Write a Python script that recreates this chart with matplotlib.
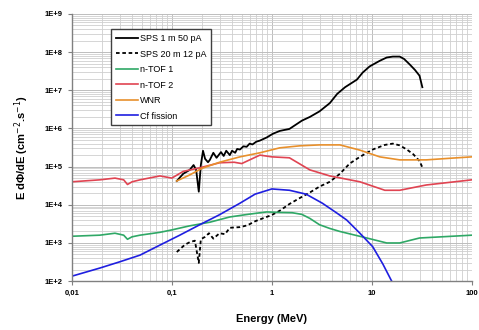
import numpy as np
import matplotlib
matplotlib.use('Agg')
import matplotlib.pyplot as plt
from matplotlib.ticker import LogLocator, FuncFormatter, NullFormatter

# SPS 1 m 50 pA (solid black)
sps1_e = [0.112, 0.13, 0.151, 0.165, 0.175, 0.186, 0.195, 0.205, 0.215, 0.23, 0.24, 0.26,
          0.28, 0.31, 0.33, 0.35, 0.38, 0.40, 0.43, 0.45, 0.48, 0.52, 0.56, 0.60,
          0.64, 0.70, 0.76, 0.89, 1.02, 1.2, 1.5, 2.0, 2.4, 3.0, 3.8, 4.5, 5.4,
          7.1, 8.1, 9.5, 12.0, 14.1, 16.2, 19.0, 21.0, 24.0, 27.0, 30.0, 32.0]
sps1_f = [4.2e4, 6.5e4, 8.2e4, 1.1e5, 8.2e4, 2.2e4, 1.1e5, 2.6e5, 1.6e5, 1.3e5, 1.5e5,
          2.3e5, 1.7e5, 2.4e5, 1.9e5, 2.6e5, 2.0e5, 2.6e5, 2.3e5, 2.9e5, 2.8e5, 3.4e5,
          3.3e5, 4.0e5, 3.8e5, 4.5e5, 4.8e5, 5.8e5, 7.2e5, 8.6e5, 9.7e5, 1.6e6, 2.0e6,
          2.8e6, 4.6e6, 8.0e6, 1.2e7, 1.9e7, 2.9e7, 4.2e7, 5.9e7, 7.2e7, 7.6e7, 7.6e7,
          6.6e7, 4.7e7, 3.4e7, 2.4e7, 1.2e7]

# SPS 20 m 12 pA (dashed black)
sps20_e = [0.112, 0.135, 0.151, 0.17, 0.186, 0.195, 0.215, 0.235, 0.26, 0.30, 0.34, 0.38,
           0.48, 0.57, 0.68, 0.79, 1.0, 1.2, 1.5, 1.9, 2.4, 3.0, 3.8, 4.8, 6.0, 7.6,
           10.2, 13.5, 16.2, 19.0, 22.4, 26.0, 30.0, 32.0]
sps20_f = [5.8e2, 9.0e2, 1.05e3, 1.15e3, 3.0e2, 1.25e3, 1.45e3, 1.8e3, 1.3e3, 1.8e3,
           1.7e3, 2.5e3, 2.6e3, 2.9e3, 3.7e3, 4.3e3, 5.4e3, 7.0e3, 1.05e4, 1.5e4, 2.1e4,
           3.0e4, 4.0e4, 6.5e4, 1.2e5, 1.8e5, 2.8e5, 3.7e5, 4.0e5, 3.6e5, 2.8e5,
           2.1e5, 1.4e5, 9.6e4]

# n-TOF 1 (green)
ntof1_e = [0.01, 0.019, 0.027, 0.033, 0.036, 0.040, 0.048, 0.076, 0.10, 0.15, 0.24, 0.38,
           0.60, 0.89, 1.2, 1.6, 2.0, 2.4, 3.0, 3.8, 4.8, 8.9, 14.1, 19.0, 30.0, 50.0,
           100.0]
ntof1_f = [1.5e3, 1.6e3, 1.8e3, 1.6e3, 1.25e3, 1.45e3, 1.6e3, 1.9e3, 2.2e3, 2.8e3, 3.5e3,
           4.8e3, 5.7e3, 6.5e3, 6.3e3, 6.2e3, 5.6e3, 4.4e3, 3.0e3, 2.4e3, 2.0e3,
           1.35e3, 1.0e3, 1.0e3, 1.35e3, 1.45e3, 1.6e3]

# n-TOF 2 (red)
ntof2_e = [0.01, 0.019, 0.027, 0.033, 0.036, 0.040, 0.048, 0.076, 0.10, 0.13, 0.19, 0.30,
           0.42, 0.50, 0.60, 0.76, 1.0, 1.5, 2.4, 3.8, 7.6, 13.5, 19.0, 35.0, 100.0]
ntof2_f = [4.0e4, 4.5e4, 5.0e4, 4.5e4, 3.4e4, 4.0e4, 4.5e4, 5.7e4, 5.0e4, 7.5e4, 9.3e4,
           1.26e5, 1.3e5, 1.2e5, 1.5e5, 2.0e5, 1.8e5, 1.7e5, 8.2e4, 5.7e4, 4.0e4,
           2.4e4, 2.4e4, 3.3e4, 4.5e4]

# WNR (orange)
wnr_e = [0.112, 0.15, 0.20, 0.30, 0.48, 0.76, 1.2, 1.9, 3.0, 4.8, 7.6, 12.0, 19.0,
         35.0, 60.0, 100.0]
wnr_f = [4.2e4, 6.0e4, 9.0e4, 1.3e5, 1.8e5, 2.3e5, 3.1e5, 3.5e5, 3.7e5, 3.7e5, 2.7e5,
         1.8e5, 1.5e5, 1.5e5, 1.65e5, 1.8e5]

# Fission-like spectrum (blue)
blue_e = [0.01, 0.019, 0.03, 0.048, 0.076, 0.12, 0.19, 0.30, 0.48, 0.68, 1.0, 1.5, 2.2,
          3.2, 4.5, 5.6, 7.6, 10.2, 12.9, 15.8, 18.0]
blue_f = [1.35e2, 2.2e2, 3.2e2, 4.8e2, 8.8e2, 1.6e3, 3.0e3, 5.5e3, 1.1e4, 1.9e4, 2.6e4,
          2.4e4, 1.9e4, 1.1e4, 6.0e3, 4.0e3, 1.8e3, 8.0e2, 2.8e2, 1.0e2, 5.0e1]

series = [
    (sps1_e, sps1_f, "SPS 1 m 50 pA", "black", "-"),
    (sps20_e, sps20_f, "SPS 20 m 12 pA", "black", (0, (2, 1.5))),
    (ntof1_e, ntof1_f, "n-TOF 1", "#2fa866", "-"),
    (ntof2_e, ntof2_f, "n-TOF 2", "#e04452", "-"),
    (wnr_e, wnr_f, "WNR", "#e8902c", "-"),
    (blue_e, blue_f, "Cf fission", "#1f1fe0", "-"),
]

plt.rcParams['font.family'] = ['Liberation Sans', 'DejaVu Sans']

fig = plt.figure(figsize=(4.79, 3.30), dpi=100)
ax = fig.add_axes([0.150, 0.148, 0.835, 0.810])

for e, f, lab, col, ls in series:
    lw = 1.3 if col == "black" else 1.2
    ax.plot(e, f, color=col, linestyle=ls, lw=lw, label=lab)

ax.set_xscale("log")
ax.set_yscale("log")
ax.set_xlim(0.01, 100)
ax.set_ylim(1e2, 1e9)

ax.xaxis.set_major_locator(LogLocator(base=10, numticks=10))
ax.yaxis.set_major_locator(LogLocator(base=10, numticks=10))
ax.xaxis.set_minor_locator(LogLocator(base=10, subs=np.arange(2, 10), numticks=20))
ax.yaxis.set_minor_locator(LogLocator(base=10, subs=np.arange(2, 10), numticks=20))
ax.xaxis.set_minor_formatter(NullFormatter())
ax.yaxis.set_minor_formatter(NullFormatter())

xlab = {0.01: "0,01", 0.1: "0,1", 1: "1", 10: "10", 100: "100"}
ax.xaxis.set_major_formatter(FuncFormatter(
    lambda v, p: xlab.get(round(v, 2) if v < 1 else round(v), "")))
ax.yaxis.set_major_formatter(FuncFormatter(
    lambda v, p: "1E+%d" % round(np.log10(v))))

ax.grid(which="major", color="#bdbdbd", lw=0.7)
ax.grid(which="minor", color="#cfcfcf", lw=0.6)
ax.set_axisbelow(True)

for s in ["top", "right"]:
    ax.spines[s].set_visible(False)
for s in ["left", "bottom"]:
    ax.spines[s].set_color("#808080")
    ax.spines[s].set_linewidth(1.0)

ax.tick_params(which="major", labelsize=5.5, length=3, color="#808080", width=0.8)
ax.tick_params(which="minor", length=0)
for t in ax.get_xticklabels() + ax.get_yticklabels():
    t.set_fontweight("bold")

ax.set_xlabel("Energy (MeV)", fontsize=8, fontweight="bold", labelpad=12)
ax.set_ylabel("E d\u03a6/dE (cm$^{-2}$.s$^{-1}$)", fontsize=8, fontweight="bold", labelpad=10)

leg = ax.legend(loc="upper left", bbox_to_anchor=(0.087, 0.96), fontsize=6.5,
                frameon=True, fancybox=False, handlelength=2.4, handletextpad=0.2,
                labelspacing=0.72, borderpad=0.55)
leg.get_frame().set_edgecolor("#404040")
leg.get_frame().set_linewidth(1.0)
leg.get_frame().set_facecolor("white")
leg.get_frame().set_alpha(1)

plt.savefig("out.png", dpi=100)
plt.close()
